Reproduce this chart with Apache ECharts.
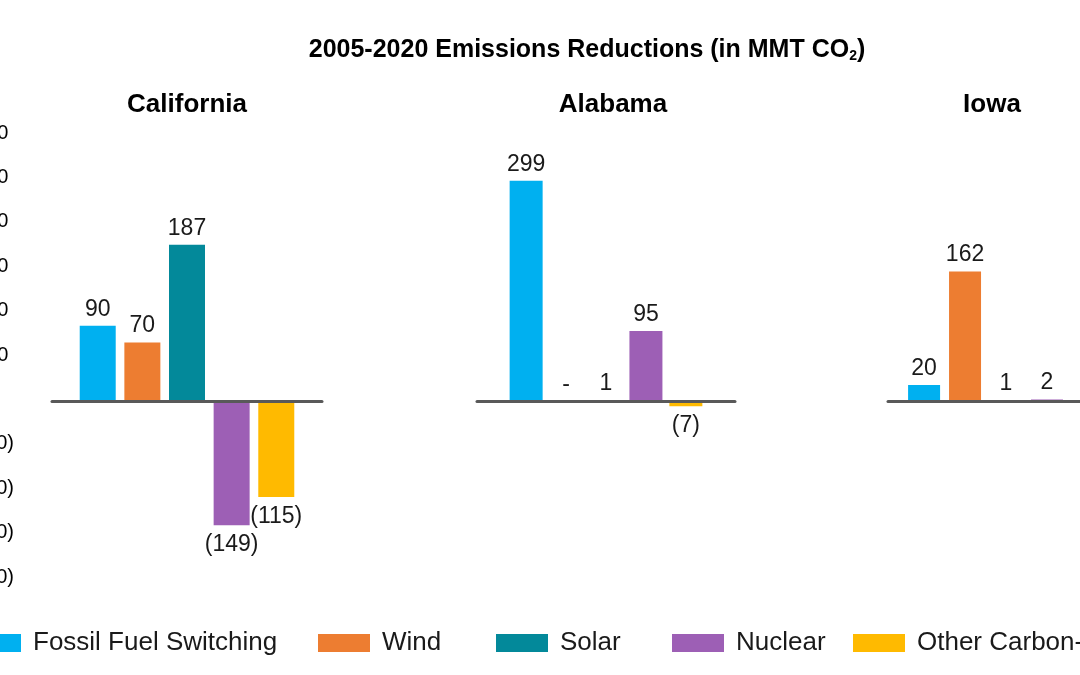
<!DOCTYPE html>
<html>
<head>
<meta charset="utf-8">
<script src="https://cdn.jsdelivr.net/npm/echarts@6/dist/echarts.min.js"></script>
<style>html,body{margin:0;padding:0;background:#fff}#c{width:1080px;height:675px}</style>
</head>
<body>
<div id="c"></div>
<script>
// ---- data ----
const states = ['California', 'Alabama', 'Iowa'];
const sources = ['Fossil Fuel Switching', 'Wind', 'Solar', 'Nuclear', 'Other Carbon-Free'];
const california = [90, 70, 187, -149, -115];
const alabama = [299, 0, 1, 95, -7];
const iowa = [20, 162, 1, 2, null];
const tickMin = -200, tickMax = 300, tickStep = 50;

const values = [california, alabama, iowa];
const colors = ['#00B0F0', '#ED7D31', '#03899A', '#9D5FB5', '#FFBA00'];
const FONT = '"Liberation Sans", Arial, sans-serif';

const grids = [
  { left: 52, width: 270, top: 133, height: 444, containLabel: false, outerBoundsMode: 'none' },
  { left: 477, width: 258, top: 133, height: 444, containLabel: false, outerBoundsMode: 'none' },
  { left: 888, width: 236, top: 133, height: 444, containLabel: false, outerBoundsMode: 'none' }
];
const barRanges = [[-211, 321], [-239, 364], [-220, 335]];
const barW = [36, 33, 32];
const barGaps = ['24%', '21%', '28%'];
const titleX = [187, 613, 992];

const xAxis = states.map((s, i) => ({
  type: 'category', gridIndex: i, data: [s],
  axisLabel: { show: false }, axisTick: { show: false },
  axisLine: { show: true, onZero: true, onZeroAxisIndex: i, lineStyle: { color: '#595959', width: 3 } },
  z: 10
}));
const yAxis = states.map((s, i) => ({
  type: 'value', gridIndex: i, min: barRanges[i][0], max: barRanges[i][1],
  show: false, splitLine: { show: false }
}));
// tick-label axis (California panel)
yAxis.push({
  type: 'value', gridIndex: 0, min: tickMin, max: tickMax, interval: tickStep,
  position: 'left',
  axisLine: { show: false }, axisTick: { show: false }, splitLine: { show: false },
  axisLabel: {
    margin: 38, fontSize: 20, color: '#000', fontFamily: FONT,
    formatter: v => v === 0 ? '' : (v < 0 ? '(' + (-v) + ')' : v + ' ')
  }
});

const fmt = v => v === 0 ? '-' : (v < 0 ? '(' + (-v) + ')' : String(v));

const series = [];
states.forEach((s, i) => {
  sources.forEach((src, j) => {
    const v = values[i][j];
    series.push({
      type: 'bar', name: src, xAxisIndex: i, yAxisIndex: i,
      barWidth: barW[i], barGap: barGaps[i],
      itemStyle: { color: colors[j] },
      data: [v === null ? null : {
        value: v,
        label: { position: v < 0 ? 'bottom' : 'top', distance: v < 0 ? 8 : 5 }
      }],
      label: {
        show: true, fontSize: 23, color: '#1a1a1a', fontFamily: FONT,
        formatter: p => fmt(p.value)
      }
    });
  });
});

const legendLefts = [-31, 318, 496, 672, 853];
const legend = sources.map((src, j) => ({
  data: [src], left: legendLefts[j], top: 630, padding: 0,
  itemWidth: 52, itemHeight: 18, icon: 'rect',
  textStyle: { fontSize: 26, color: '#1a1a1a', fontFamily: FONT, padding: [0, 0, 0, 7] }
}));

const title = [{
  text: '2005-2020 Emissions Reductions (in MMT CO{sub|2})',
  left: 587, top: 37, textAlign: 'center', padding: 0,
  textStyle: {
    fontSize: 25, fontWeight: 'bold', color: '#000', fontFamily: FONT,
    rich: { sub: { fontSize: 14, fontWeight: 'bold', color: '#000', fontFamily: FONT, padding: [12, 0, 0, 0] } }
  }
}].concat(states.map((s, i) => ({
  text: s, left: titleX[i], top: 92, textAlign: 'center', padding: 0,
  textStyle: { fontSize: 26, fontWeight: 'bold', color: '#000', fontFamily: FONT }
})));

const chart = echarts.init(document.getElementById('c'));
chart.setOption({
  animation: false,
  backgroundColor: '#fff',
  title, legend, grid: grids, xAxis, yAxis, series
});
</script>
</body>
</html>
